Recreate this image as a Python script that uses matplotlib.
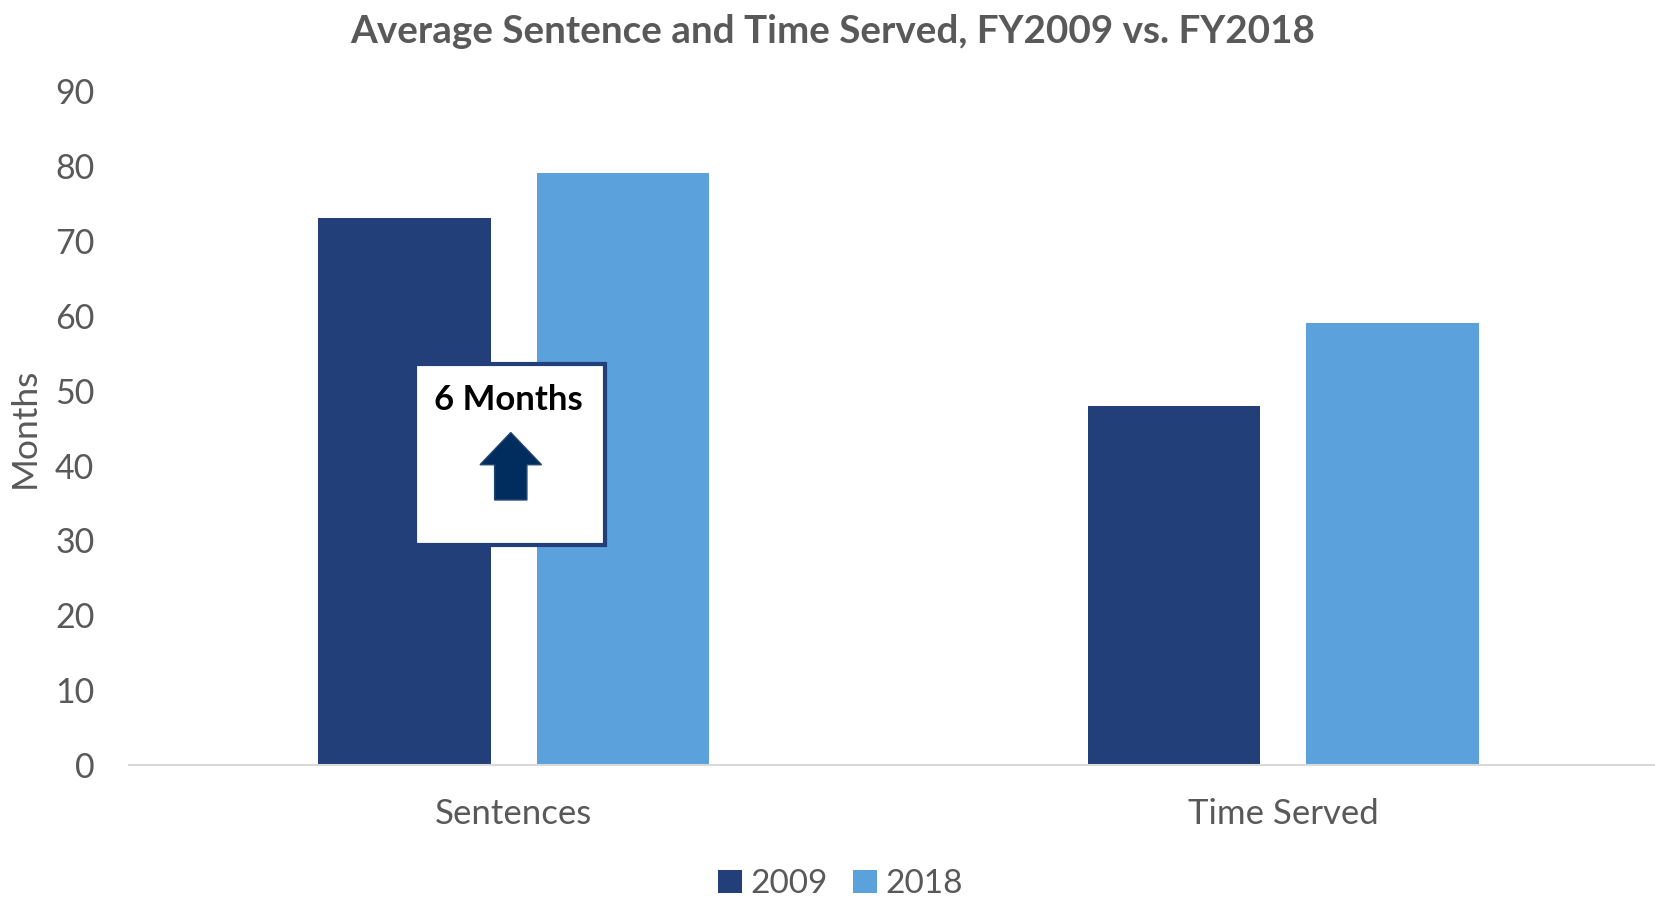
import numpy as np
import matplotlib.pyplot as plt
from matplotlib.patches import Rectangle, FancyArrow

plt.rcParams['font.family'] = ['Lato', 'DejaVu Sans']

categories = ["Sentences", "Time Served"]
years = ["2009", "2018"]
values_2009 = [73, 48]
values_2018 = [79, 59]
colors = ["#223F7A", "#5BA1DB"]
gray = "#595959"

fig = plt.figure(figsize=(16.55, 8.97), dpi=100)
ax = fig.add_axes([0.078, 0.147, 0.922, 0.7516])

x = np.arange(len(categories))
w = 0.224
off = w / 2 + 0.030
ax.bar(x - off, values_2009, w, color=colors[0], label=years[0])
ax.bar(x + off, values_2018, w, color=colors[1], label=years[1])

ax.set_xlim(-0.5, 1.483)
ax.set_ylim(0, 90)
ax.set_yticks(range(0, 91, 10))
ax.set_xticks(x)
ax.set_xticklabels(categories)
ax.tick_params(length=0, labelsize=24.5, labelcolor=gray)
ax.tick_params(axis='x', labelsize=25, pad=24)
ax.tick_params(axis='y', pad=25)
for s in ["top", "right", "left"]:
    ax.spines[s].set_visible(False)
ax.spines["bottom"].set_color("#D9D9D9")
ax.spines["bottom"].set_linewidth(1.5)
ax.set_ylabel("Months", fontsize=25.5, color=gray)
ax.yaxis.set_label_coords(-0.058, 0.5)

# callout box
box = Rectangle((-0.128, 29.4), 0.246, 24.1, facecolor="white",
                edgecolor="#223F7A", linewidth=3, zorder=3)
ax.add_patch(box)
ax.text(-0.007, 48.8, "6 Months", ha="center", va="center", fontsize=25,
        fontweight="bold", color="black", zorder=4)
ax.add_patch(FancyArrow(-0.004, 35.4, 0, 9.0, width=0.042, head_width=0.08,
                        head_length=4.3, length_includes_head=True,
                        facecolor="#002D5E", edgecolor="#23466F",
                        linewidth=1, zorder=4))

fig.text(0.503, 0.965, "Average Sentence and Time Served, FY2009 vs. FY2018",
         ha="center", va="center", fontsize=27.8, fontweight="bold", color=gray)

fig.legend(loc="center", bbox_to_anchor=(0.508, 0.014), ncol=2, frameon=False,
           fontsize=24, labelcolor=gray, handlelength=0.7, handleheight=0.7,
           handletextpad=0.27, columnspacing=0.75)

fig.savefig("out.png", dpi=100)
